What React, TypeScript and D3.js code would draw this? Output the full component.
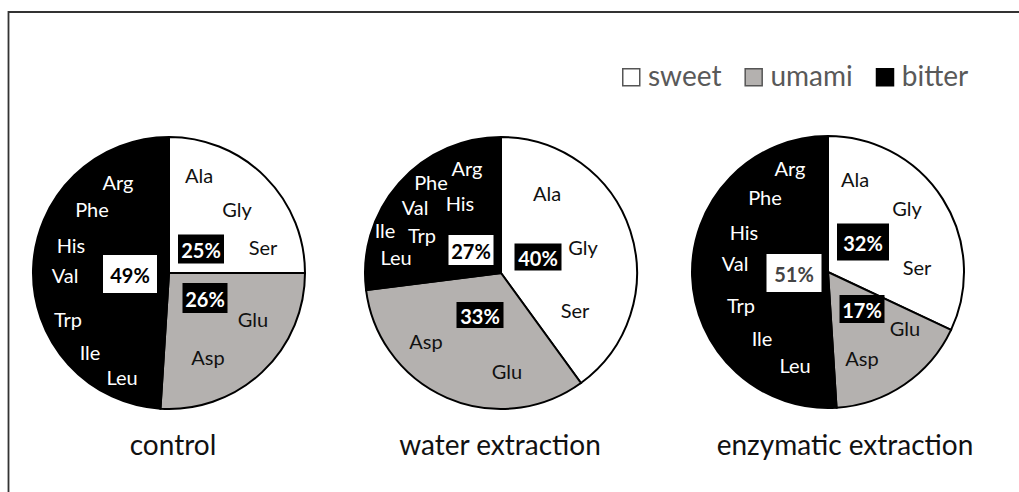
import React, { useEffect, useRef } from "react";
import * as d3 from "d3";

// chart data
const extractions = ["control", "water extraction", "enzymatic extraction"];
const tastes = ["sweet", "umami", "bitter"];
const sweetShare = [25, 40, 32];
const umamiShare = [26, 33, 17];
const bitterShare = [49, 27, 51];
const sweetAcids = ["Ala", "Gly", "Ser"];
const umamiAcids = ["Glu", "Asp"];
const bitterAcids = ["Arg", "Phe", "His", "Val", "Trp", "Ile", "Leu"];

// layout only (label spots picked by hand, relative to each pie centre)
const W = 1019;
const H = 492;
const R = 136;
const centers = [
  [169, 273],
  [501, 273],
  [828, 272],
];
const titleShift = [4, -1, 17];
const labelSpots: Record<string, number[]>[] = [
  {
    Arg: [-51, -91], Phe: [-77, -64], His: [-98, -28], Val: [-104, 2], Trp: [-101, 46], Ile: [-79, 79], Leu: [-47, 104],
    Ala: [30, -98], Gly: [68, -64], Ser: [94, -26], Glu: [84, 46], Asp: [39, 84],
  },
  {
    Arg: [-34, -105], Phe: [-70, -91], His: [-41, -70], Val: [-86, -66], Ile: [-116, -43], Trp: [-79, -38], Leu: [-105, -16],
    Ala: [46, -80], Gly: [82, -26], Ser: [74, 37], Asp: [-75, 68], Glu: [6, 98],
  },
  {
    Arg: [-38, -104], Phe: [-63, -75], His: [-84, -40], Val: [-93, -9], Trp: [-87, 33], Ile: [-66, 66], Leu: [-33, 93],
    Ala: [27, -93], Gly: [79, -64], Ser: [89, -5], Glu: [77, 56], Asp: [34, 86],
  },
];
// [dx, dy, w, h] of the percentage boxes, per pie, in taste order
const boxSpots = [
  [[32, -24, 46, 29], [36, 25, 45, 30], [-39, 1, 54, 38]],
  [[37, -16, 47, 27], [-21, 42, 47, 26], [-30, -23, 45, 30]],
  [[35, -30, 52, 37], [34, 37, 45, 28], [-34, 1, 55, 38]],
];

const FONT = "Lato, 'Open Sans', sans-serif";

const App = () => {
  const ref = useRef<SVGSVGElement>(null);

  useEffect(() => {
    const svg = d3.select(ref.current);
    svg.selectAll("*").remove();

    const color = d3.scaleOrdinal<string, string>().domain(tastes).range(["#ffffff", "#b4b1af", "#000000"]);
    const acidsOf: Record<string, string[]> = { sweet: sweetAcids, umami: umamiAcids, bitter: bitterAcids };

    // frame
    svg.append("path")
      .attr("d", `M8.5,${H} L8.5,12 L${W},12`)
      .attr("fill", "none")
      .attr("stroke", "#333")
      .attr("stroke-width", 1.8);

    const pie = d3.pie<{ taste: string; value: number }>().sort(null).value((d) => d.value);
    const arc = d3.arc<d3.PieArcDatum<{ taste: string; value: number }>>().innerRadius(0).outerRadius(R);

    extractions.forEach((name, i) => {
      const data = [
        { taste: "sweet", value: sweetShare[i] },
        { taste: "umami", value: umamiShare[i] },
        { taste: "bitter", value: bitterShare[i] },
      ];
      const g = svg.append("g").attr("transform", `translate(${centers[i][0]},${centers[i][1]})`);

      g.selectAll("path.slice")
        .data(pie(data))
        .join("path")
        .attr("class", "slice")
        .attr("d", arc)
        .attr("fill", (d) => color(d.data.taste))
        .attr("stroke", "#000")
        .attr("stroke-width", 2);

      // amino acid names
      data.forEach((d) => {
        acidsOf[d.taste].forEach((acid) => {
          const p = labelSpots[i][acid];
          g.append("text")
            .attr("x", p[0])
            .attr("y", p[1])
            .attr("text-anchor", "middle")
            .attr("dominant-baseline", "central")
            .attr("font-family", FONT)
            .attr("font-size", 20)
            .attr("fill", d.taste === "bitter" ? "#fff" : "#111")
            .text(acid);
        });
      });

      // percentage boxes
      data.forEach((d, k) => {
        const b = boxSpots[i][k];
        const dark = d.taste !== "bitter";
        g.append("rect")
          .attr("x", b[0] - b[2] / 2)
          .attr("y", b[1] - b[3] / 2)
          .attr("width", b[2])
          .attr("height", b[3])
          .attr("fill", dark ? "#000" : "#fff");
        g.append("text")
          .attr("x", b[0])
          .attr("y", b[1] + 1)
          .attr("text-anchor", "middle")
          .attr("dominant-baseline", "central")
          .attr("font-family", FONT)
          .attr("font-weight", "bold")
          .attr("font-size", 20)
          .attr("fill", dark ? "#fff" : i === 2 ? "#444" : "#000")
          .text(`${d.value}%`);
      });

      // title
      svg.append("text")
        .attr("x", centers[i][0] + titleShift[i])
        .attr("y", 455)
        .attr("text-anchor", "middle")
        .attr("font-family", FONT)
        .attr("font-size", 28)
        .attr("fill", "#111")
        .text(name);
    });

    // legend
    let x = 622;
    tastes.forEach((t) => {
      svg.append("rect")
        .attr("x", x + 0.75)
        .attr("y", 68.75)
        .attr("width", 17)
        .attr("height", 17)
        .attr("fill", color(t))
        .attr("stroke", t === "bitter" ? "#000" : "#555")
        .attr("stroke-width", 1.5);
      const txt = svg.append("text")
        .attr("x", x + 26)
        .attr("y", 86)
        .attr("font-family", FONT)
        .attr("font-size", 28)
        .attr("fill", "#595959")
        .text(t);
      const len = (txt.node() as SVGTextElement).getComputedTextLength();
      x = x + 26 + len + 23;
    });
  }, []);

  return (
    <svg
      ref={ref}
      width={W}
      height={H}
      style={{ position: "absolute", left: 0, top: 0, background: "#fff" }}
    />
  );
};

export default App;
